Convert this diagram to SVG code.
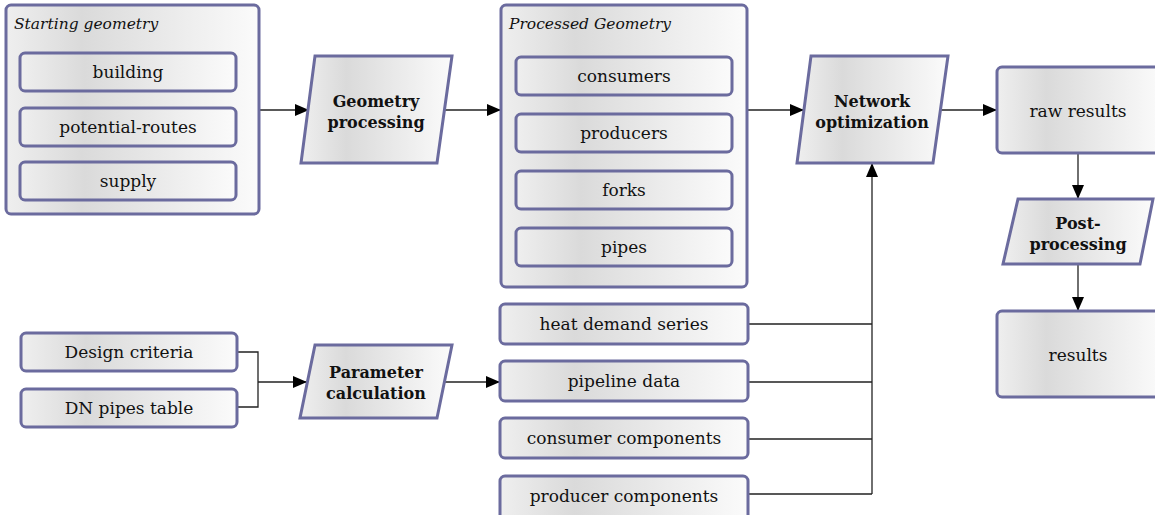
<svg xmlns="http://www.w3.org/2000/svg" width="1155" height="515" viewBox="0 0 1155 515">
<defs>
<linearGradient id="g" x1="0" y1="0" x2="1" y2="0">
<stop offset="0" stop-color="#efefef"/>
<stop offset="0.3" stop-color="#dadada"/>
<stop offset="1" stop-color="#fbfbfb"/>
</linearGradient>
<marker id="arr" markerUnits="userSpaceOnUse" markerWidth="14" markerHeight="12" refX="14" refY="6" orient="auto">
<path d="M0,0 L14,6 L0,12 Z" fill="#000"/>
</marker>
<style>
.box{fill:url(#g);stroke:#6b6b9e;stroke-width:3}
.t{font-family:'DejaVu Serif','Liberation Serif',serif;font-size:17px;fill:#111;text-anchor:middle}
.b{font-weight:bold;font-size:16px}
.i{font-style:italic;text-anchor:start;font-size:15.5px}
.c{fill:none;stroke:#222;stroke-width:1.3}
</style>
</defs>
<rect width="1155" height="515" fill="#fff"/>
<g id="connectors">
<path class="c" d="M259,110 H309" marker-end="url(#arr)"/>
<path class="c" d="M445,110 H501" marker-end="url(#arr)"/>
<path class="c" d="M747,110 H804" marker-end="url(#arr)"/>
<path class="c" d="M940,110 H997" marker-end="url(#arr)"/>
<path class="c" d="M1078,153 V199" marker-end="url(#arr)"/>
<path class="c" d="M1078,264 V311" marker-end="url(#arr)"/>
<path class="c" d="M237,352 H258 V407 H237"/>
<path class="c" d="M258,382 H307" marker-end="url(#arr)"/>
<path class="c" d="M445,382 H500" marker-end="url(#arr)"/>
<path class="c" d="M748,324 H872 M748,382 H872 M748,439 H872 M748,494 H872"/>
<path class="c" d="M872,494 V163" marker-end="url(#arr)"/>
</g>
<g id="starting-geometry">
<rect class="box" x="6" y="5" width="253" height="209" rx="5"/>
<text class="t i" x="14" y="29">Starting geometry</text>
</g>
<g id="building"><rect class="box" x="20" y="53" width="216" height="38" rx="5"/><text class="t" x="128" y="78">building</text></g>
<g id="potential-routes"><rect class="box" x="20" y="108" width="216" height="38" rx="5"/><text class="t" x="128" y="133">potential-routes</text></g>
<g id="supply"><rect class="box" x="20" y="162" width="216" height="38" rx="5"/><text class="t" x="128" y="187">supply</text></g>
<g id="geometry-processing">
<polygon class="box" points="315,56 452,56 437,163 301,163"/>
<text class="t b" x="376" y="107">Geometry</text>
<text class="t b" x="376" y="128">processing</text>
</g>
<g id="processed-geometry">
<rect class="box" x="501" y="5" width="246" height="282" rx="5"/>
<text class="t i" x="509" y="29">Processed Geometry</text>
</g>
<g id="consumers"><rect class="box" x="516" y="57" width="216" height="38" rx="5"/><text class="t" x="624" y="82">consumers</text></g>
<g id="producers"><rect class="box" x="516" y="114" width="216" height="38" rx="5"/><text class="t" x="624" y="139">producers</text></g>
<g id="forks"><rect class="box" x="516" y="171" width="216" height="38" rx="5"/><text class="t" x="624" y="196">forks</text></g>
<g id="pipes"><rect class="box" x="516" y="228" width="216" height="38" rx="5"/><text class="t" x="624" y="253">pipes</text></g>
<g id="network-optimization">
<polygon class="box" points="811,56 948,56 933,163 797,163"/>
<text class="t b" x="872" y="107">Network</text>
<text class="t b" x="872" y="128">optimization</text>
</g>
<g id="raw-results"><rect class="box" x="997" y="67" width="165" height="86" rx="5"/><text class="t" x="1078" y="117">raw results</text></g>
<g id="post-processing">
<polygon class="box" points="1018,199 1153,199 1140,264 1003,264"/>
<text class="t b" x="1078" y="229">Post-</text>
<text class="t b" x="1078" y="250">processing</text>
</g>
<g id="results"><rect class="box" x="997" y="311" width="165" height="86" rx="5"/><text class="t" x="1078" y="361">results</text></g>
<g id="design-criteria"><rect class="box" x="21" y="333" width="216" height="38" rx="5"/><text class="t" x="129" y="358">Design criteria</text></g>
<g id="dn-pipes-table"><rect class="box" x="21" y="389" width="216" height="38" rx="5"/><text class="t" x="129" y="414">DN pipes table</text></g>
<g id="parameter-calculation">
<polygon class="box" points="315,345 452,345 437,418 300,418"/>
<text class="t b" x="376" y="378">Parameter</text>
<text class="t b" x="376" y="399">calculation</text>
</g>
<g id="heat-demand-series"><rect class="box" x="500" y="304" width="248" height="40" rx="5"/><text class="t" x="624" y="330">heat demand series</text></g>
<g id="pipeline-data"><rect class="box" x="500" y="361" width="248" height="40" rx="5"/><text class="t" x="624" y="387">pipeline data</text></g>
<g id="consumer-components"><rect class="box" x="500" y="418" width="248" height="40" rx="5"/><text class="t" x="624" y="444">consumer components</text></g>
<g id="producer-components"><rect class="box" x="500" y="476" width="248" height="44" rx="5"/><text class="t" x="624" y="502">producer components</text></g>
</svg>
